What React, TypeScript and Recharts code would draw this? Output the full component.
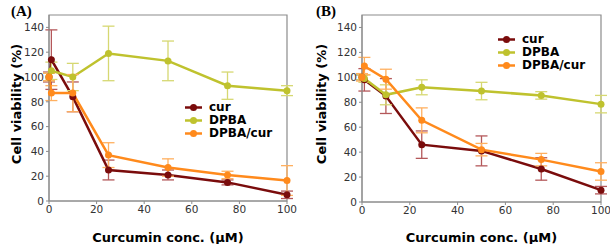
import { LineChart, Line, XAxis, YAxis, ErrorBar, ReferenceArea } from 'recharts';

const conc = [0, 1, 10, 25, 50, 75, 100];
const xTicks = [0, 20, 40, 60, 80, 100];
const yTicks = [0, 20, 40, 60, 80, 100, 120, 140];

// panel A
const curA = [100, 114, 84, 25, 21, 15, 5];
const curAErr = [4, 24, 12, 8, 4, 2, 3];
const dpbaA = [100, 105, 100, 119, 113, 93, 89];
const dpbaAErr = [3, 7, 11, 22, 16, 11, 4];
const mixA = [100, 87, 87, 37, 27, 21, 16.5];
const mixAErr = [3, 6, 15, 10, 7, 3, 12];

// panel B
const curB = [100, 98, 85, 46, 41, 26.5, 9.5];
const curBErr = [2, 9, 14, 11, 12, 9, 3];
const dpbaB = [100, 99, 86, 92, 89, 85.5, 78.5];
const dpbaBErr = [2, 3, 8, 6, 7, 3, 7];
const mixB = [100, 109, 98.5, 65.5, 42, 34, 24.5];
const mixBErr = [3, 7, 8, 10, 5, 5, 7];

const COLORS = { cur: '#7a0c0c', dpba: '#bfc22e', mix: '#ff8a1c' };
const ERR = { cur: '#b4585a', dpba: '#d6d872', mix: '#ffb060' };
const LABELS = [
  { key: 'cur', name: 'cur' },
  { key: 'dpba', name: 'DPBA' },
  { key: 'mix', name: 'DPBA/cur' },
] as const;

function buildRows(cur: number[], curErr: number[], dpba: number[], dpbaErr: number[], mix: number[], mixErr: number[]) {
  return conc.map((x, i) => ({
    x,
    cur: cur[i],
    curErr: curErr[i],
    dpba: dpba[i],
    dpbaErr: dpbaErr[i],
    mix: mix[i],
    mixErr: mixErr[i],
  }));
}

function LegendBox({ x, y }: { x: number; y: number }) {
  return (
    <div style={{ position: 'absolute', left: x, top: y, fontFamily: 'DejaVu Sans', fontWeight: 'bold', fontSize: 12, lineHeight: '13px' }}>
      {LABELS.map((l) => (
        <div key={l.key} style={{ display: 'flex', alignItems: 'center', height: 13 }}>
          <svg width={24} height={13}>
            <line x1={0} y1={6.5} x2={17} y2={6.5} stroke={COLORS[l.key]} strokeWidth={2.5} />
            <circle cx={8.5} cy={6.5} r={3.5} fill={COLORS[l.key]} />
          </svg>
          <span>{l.name}</span>
        </div>
      ))}
    </div>
  );
}

type PanelProps = {
  tag: string;
  rows: ReturnType<typeof buildRows>;
  left: number;
  plotLeft: number;
  plotRight: number;
  plotBottom: number;
  legendX: number;
  legendY: number;
};

function Panel({ tag, rows, left, plotLeft, plotRight, plotBottom, legendX, legendY }: PanelProps) {
  const yAxisW = 30;
  const xAxisH = 20;
  const tickStyle = { fontFamily: 'DejaVu Sans', fontSize: 10.5, fill: '#333' };
  return (
    <div style={{ position: 'absolute', left, top: 0, width: 305, height: 244 }}>
      <LineChart
        width={305}
        height={244}
        data={rows}
        margin={{ top: 15, right: 305 - plotRight, bottom: 244 - plotBottom - xAxisH, left: plotLeft - yAxisW }}
      >
        <ReferenceArea x1={0} x2={100} y1={0} y2={150} fill="none" stroke="#8c8c8c" strokeWidth={1.2} />
        <XAxis
          dataKey="x"
          type="number"
          domain={[0, 100]}
          ticks={xTicks}
          height={xAxisH}
          tick={tickStyle}
          tickSize={3}
          stroke="#8c8c8c"
          tickLine={{ stroke: '#8c8c8c' }}
        />
        <YAxis
          type="number"
          domain={[0, 150]}
          ticks={yTicks}
          width={yAxisW}
          tick={tickStyle}
          tickSize={3}
          stroke="#8c8c8c"
          tickLine={{ stroke: '#8c8c8c' }}
        />
        {LABELS.map((l) => (
          <Line
            key={l.key}
            dataKey={l.key}
            stroke={COLORS[l.key]}
            strokeWidth={2.5}
            dot={{ r: 3.5, fill: COLORS[l.key], stroke: COLORS[l.key], strokeWidth: 0 }}
            isAnimationActive={false}
          >
            <ErrorBar dataKey={`${l.key}Err`} direction="y" width={6} stroke={ERR[l.key]} strokeWidth={1.3} />
          </Line>
        ))}
      </LineChart>
      <LegendBox x={legendX} y={legendY} />
      <div style={{ position: 'absolute', left: 11, top: 3, fontFamily: 'Liberation Serif', fontWeight: 'bold', fontSize: 15 }}>
        {tag}
      </div>
      <div
        style={{
          position: 'absolute',
          left: 16,
          top: 104,
          transform: 'translate(-50%, -50%) rotate(-90deg)',
          whiteSpace: 'nowrap',
          fontFamily: 'DejaVu Sans',
          fontWeight: 'bold',
          fontSize: 13,
        }}
      >
        Cell viability (%)
      </div>
      <div
        style={{
          position: 'absolute',
          left: (plotLeft + plotRight) / 2,
          top: 237,
          transform: 'translate(-50%, -50%)',
          whiteSpace: 'nowrap',
          fontFamily: 'DejaVu Sans',
          fontWeight: 'bold',
          fontSize: 13,
        }}
      >
        Curcumin conc. (µM)
      </div>
    </div>
  );
}

export default function App() {
  const rowsA = buildRows(curA, curAErr, dpbaA, dpbaAErr, mixA, mixAErr);
  const rowsB = buildRows(curB, curBErr, dpbaB, dpbaBErr, mixB, mixBErr);
  return (
    <div style={{ position: 'absolute', left: 0, top: 0, width: 610, height: 244, background: '#fff' }}>
      <Panel tag="(A)" rows={rowsA} left={0} plotLeft={49} plotRight={287} plotBottom={201} legendX={185} legendY={101} />
      <Panel tag="(B)" rows={rowsB} left={305} plotLeft={57} plotRight={296} plotBottom={202} legendX={193} legendY={33} />
    </div>
  );
}
